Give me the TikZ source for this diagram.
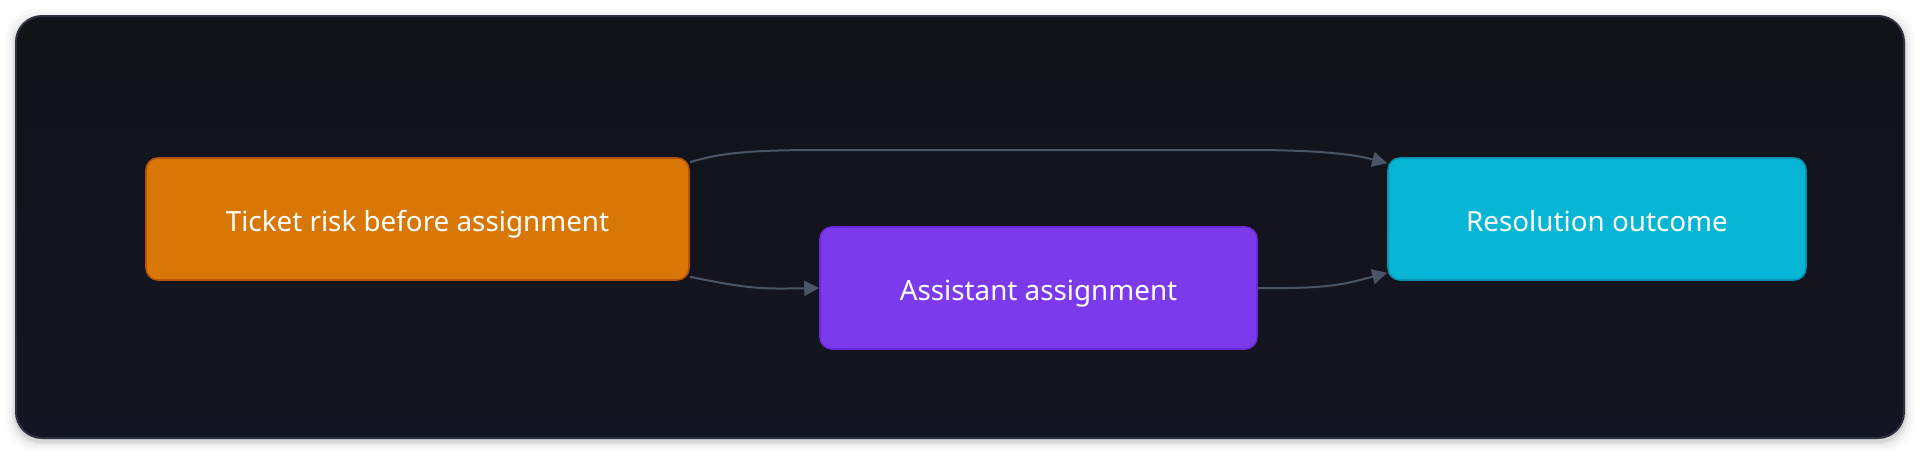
\documentclass[tikz,border=0pt]{standalone}
\usepackage{fontspec}
\setmainfont{Noto Sans}
\usetikzlibrary{arrows.meta}

\begin{document}
\begin{tikzpicture}[x=0.5pt,y=-0.5pt]
\definecolor{bg}{HTML}{111318}
\definecolor{bgl}{HTML}{141522}
\definecolor{rim}{HTML}{2B3140}
\definecolor{wire}{HTML}{4A5566}
\definecolor{o1}{HTML}{D97706}
\definecolor{o2}{HTML}{B45309}
\definecolor{p1}{HTML}{7C3AED}
\definecolor{p2}{HTML}{6D28D9}
\definecolor{c1}{HTML}{06B6D4}
\definecolor{c2}{HTML}{0891B2}
\tikzset{
  box/.style={draw, line width=0.8pt, rounded corners=6pt, inner sep=0pt,
    text=white, font=\fontsize{13.9}{16}\selectfont, text height=12pt, text depth=0pt},
  edge/.style={draw=wire, line width=1pt, -{Triangle[length=7.5pt,width=7.5pt]}}
}

\useasboundingbox (0,0) rectangle (1920,456);
% shadow and panel
\foreach \s/\o in {10/0.02,7/0.03,4/0.05,2/0.07}
  \fill[black, opacity=\o, rounded corners=14pt] (16-\s,16-\s+3) rectangle (1904+\s,438+\s+3);
\shade[top color=bg, bottom color=bgl, rounded corners=13pt] (16,16) rectangle (1904,438);
\draw[rim, line width=1pt, rounded corners=13pt] (16,16) rectangle (1904,438);

% nodes
\node[box, fill=o1, draw=o2, minimum width=271.5pt, minimum height=61pt] (risk) at (417.5,219) {Ticket risk before assignment};
\node[box, fill=p1, draw=p2, minimum width=218.5pt, minimum height=61pt] (assist) at (1038.5,288) {Assistant assignment};
\node[box, fill=c1, draw=c2, minimum width=209pt, minimum height=61pt] (outcome) at (1597,219) {Resolution outcome};

% connectors
\draw[edge] ([yshift=-2.5pt]risk.north east) .. controls (720,153) and (750,150) .. (820,150)
  -- (1250,150) .. controls (1330,150) and (1360,156) .. ([yshift=-3pt]outcome.north west);
\draw[edge] ([yshift=2pt]risk.south east) .. controls (750,289) and (760,289) .. (assist.west);
\draw[edge] (assist.east) .. controls (1330,289) and (1345,284) .. ([yshift=4pt]outcome.south west);
\end{tikzpicture}
\end{document}
